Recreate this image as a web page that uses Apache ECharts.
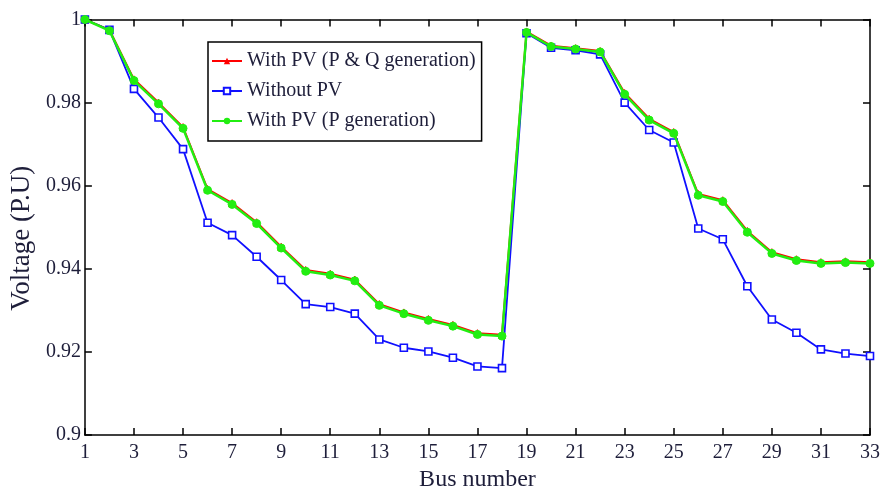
<!DOCTYPE html>
<html>
<head>
<meta charset="utf-8">
<script src="https://cdn.jsdelivr.net/npm/echarts@6/dist/echarts.min.js"></script>
<style>
html,body{margin:0;padding:0;background:#fff;}
#chart{width:883px;height:497px;}
</style>
</head>
<body>
<div id="chart"></div>
<script>
var busNumbers = [1,2,3,4,5,6,7,8,9,10,11,12,13,14,15,16,17,18,19,20,21,22,23,24,25,26,27,28,29,30,31,32,33];
var withPVPQ = [1.0, 0.9975, 0.9856, 0.9800, 0.9741, 0.9592, 0.9558, 0.9512, 0.9453, 0.9397, 0.9388, 0.9374, 0.9315, 0.9295, 0.9279, 0.9265, 0.9245, 0.9241, 0.9971, 0.9937, 0.9931, 0.9924, 0.9823, 0.9761, 0.9729, 0.9580, 0.9565, 0.9491, 0.9440, 0.9423, 0.9416, 0.9418, 0.9416];
var withoutPV = [1.0, 0.9975, 0.9833, 0.9764, 0.9688, 0.9511, 0.9481, 0.9429, 0.9373, 0.9315, 0.9308, 0.9292, 0.9230, 0.9210, 0.9201, 0.9186, 0.9165, 0.9161, 0.9967, 0.9932, 0.9926, 0.9916, 0.9800, 0.9734, 0.9704, 0.9497, 0.9471, 0.9358, 0.9278, 0.9246, 0.9206, 0.9196, 0.9190];
var withPVP = [1.0, 0.9973, 0.9853, 0.9797, 0.9738, 0.9589, 0.9555, 0.9509, 0.9450, 0.9394, 0.9385, 0.9371, 0.9312, 0.9292, 0.9276, 0.9262, 0.9242, 0.9238, 0.9969, 0.9935, 0.9929, 0.9922, 0.9820, 0.9758, 0.9726, 0.9577, 0.9562, 0.9488, 0.9437, 0.9420, 0.9413, 0.9415, 0.9413];
var seriesNames = ['With PV (P & Q generation)', 'Without PV', 'With PV (P generation)'];
var xTicks = {min: 1, max: 33, interval: 2};
var yTicks = {min: 0.9, max: 1, interval: 0.02};

function pairs(vals){ return busNumbers.map(function(b,i){ return [b, vals[i]]; }); }

var font = 'Liberation Serif';
var textColor = '#1e1e3a';
var axisCommon = {
  axisLine: {show: true, lineStyle: {color: '#000', width: 1.5}},
  axisTick: {show: true, inside: true, length: 7, lineStyle: {color: '#000', width: 1.5}},
  splitLine: {show: false}
};

var chart = echarts.init(document.getElementById('chart'), null, {renderer: 'canvas'});
chart.setOption({
  animation: false,
  backgroundColor: '#fff',
  grid: {left: 84, right: 8, top: 19.5, bottom: 59, containLabel: false},
  legend: {
    orient: 'vertical',
    left: 208, top: 42,
    padding: [9, 6, 10, 3],
    itemGap: 10,
    itemWidth: 30, itemHeight: 8,
    borderColor: '#000', borderWidth: 1.5,
    backgroundColor: '#fff',
    textStyle: {fontFamily: font, fontSize: 20, color: textColor, lineHeight: 20},
    data: seriesNames
  },
  xAxis: [
    Object.assign({
      type: 'value', position: 'bottom',
      min: xTicks.min, max: xTicks.max, interval: xTicks.interval,
      name: 'Bus number', nameLocation: 'middle', nameGap: 33,
      nameTextStyle: {fontFamily: font, fontSize: 24, color: textColor},
      axisLabel: {fontFamily: font, fontSize: 20, color: textColor, margin: 8}
    }, axisCommon),
    Object.assign({
      type: 'value', position: 'top',
      min: xTicks.min, max: xTicks.max, interval: xTicks.interval,
      axisLabel: {show: false}
    }, axisCommon)
  ],
  yAxis: [
    Object.assign({
      type: 'value', position: 'left',
      min: yTicks.min, max: yTicks.max, interval: yTicks.interval,
      name: 'Voltage (P.U)', nameLocation: 'middle', nameGap: 44,
      nameTextStyle: {fontFamily: font, fontSize: 27, color: textColor, padding: [0, 22, 0, 0]},
      axisLabel: {fontFamily: font, fontSize: 20, color: textColor, margin: 4}
    }, axisCommon),
    Object.assign({
      type: 'value', position: 'right',
      min: yTicks.min, max: yTicks.max, interval: yTicks.interval,
      axisLabel: {show: false}
    }, axisCommon)
  ],
  series: [
    {
      name: seriesNames[0], type: 'line', data: pairs(withPVPQ),
      symbol: 'triangle', symbolSize: 7,
      lineStyle: {color: '#ff0000', width: 2},
      itemStyle: {color: '#ff0000', borderColor: '#ff0000'},
      z: 2
    },
    {
      name: seriesNames[1], type: 'line', data: pairs(withoutPV),
      symbol: 'rect', symbolSize: 7,
      lineStyle: {color: '#1010ff', width: 1.8},
      itemStyle: {color: '#ffffff', borderColor: '#1010ff', borderWidth: 1.6},
      z: 3
    },
    {
      name: seriesNames[2], type: 'line', data: pairs(withPVP),
      symbol: 'circle', symbolSize: 8,
      lineStyle: {color: '#22ee11', width: 2.5},
      itemStyle: {color: '#22ee11', borderColor: '#22ee11'},
      z: 4
    }
  ]
});
</script>
</body>
</html>
